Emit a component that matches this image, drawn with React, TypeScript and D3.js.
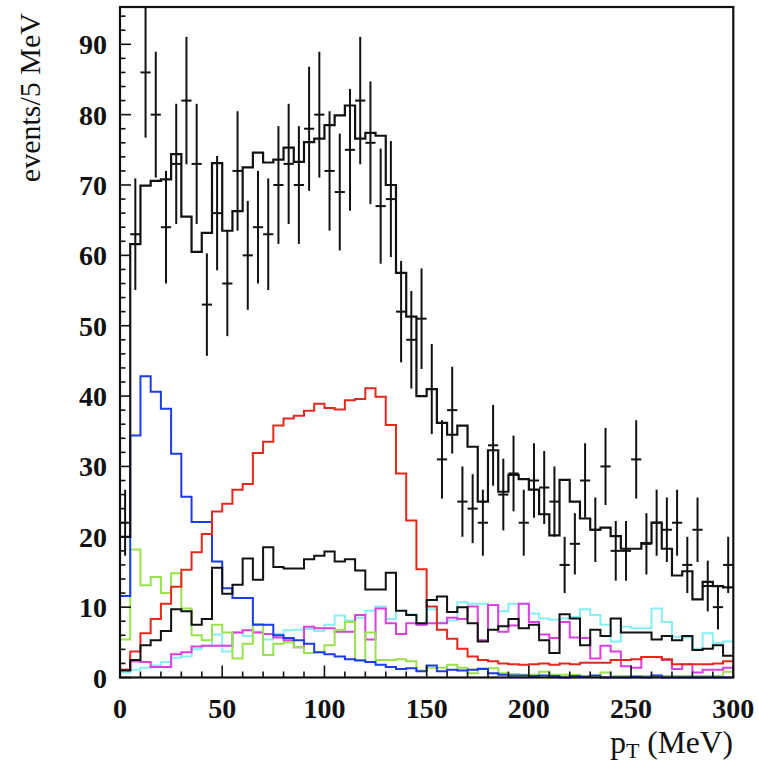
import React from 'react';
import * as d3 from 'd3';

// ---- axis definitions ----
const X_DOMAIN: [number, number] = [0, 300];
const Y_DOMAIN: [number, number] = [0, 95.3];
const X_TICKS = [0, 50, 100, 150, 200, 250, 300];
const Y_TICKS = [0, 10, 20, 30, 40, 50, 60, 70, 80, 90];
const BIN_WIDTH = 5; // MeV

// ---- measured data (events per 5 MeV bin, 0..300 MeV) ----
const dataCounts = [
  22, 63, 86, 80, 64, 73, 82, 73, 53, 66,
  56, 72, 60, 64, 63, 70, 73, 70, 78, 80,
  72, 69, 75, 82, 76, 67, 68, 52, 48, 51,
  41, 31, 38, 25, 24, 22, 33, 26, 29, 22,
  28, 27, 25, 16, 19, 28, 21, 30, 18, 18,
  31, 19, 22, 21, 22, 16, 21, 13, 10, 16,
];

// ---- total fit ----
const totalFit = [
  20.0, 61.6, 69.9, 70.6, 70.8, 74.4, 65.5, 60.5, 63.2, 73.1,
  63.5, 66.3, 72.5, 74.6, 73.2, 73.6, 75.3, 73.3, 76.1, 76.6,
  78.5, 79.9, 81.3, 76.6, 77.4, 77.0, 70.0, 57.5, 51.3, 40.0,
  41.0, 36.2, 34.5, 35.8, 32.8, 25.0, 32.3, 26.4, 28.8, 28.2,
  26.7, 23.2, 20.2, 28.1, 25.0, 22.6, 21.0, 21.3, 20.1, 18.3,
  18.3, 19.1, 22.0, 18.3, 14.5, 15.1, 11.1, 13.6, 13.0, 12.8,
];

// ---- components ----
const blueComp = [
  11.6, 34.4, 42.8, 40.6, 38.2, 31.8, 25.7, 22.1, 22.1, 16.5,
  12.7, 11.3, 11.3, 7.5, 7.5, 6.0, 5.6, 5.3, 4.8, 3.6,
  3.3, 3.0, 2.6, 2.4, 2.2, 1.8, 1.5, 1.2, 1.3, 0.9,
  1.7, 0.9, 1.1, 1.0, 1.1, 1.2, 0.6, 0.4, 0.3, 0.3,
  0.2, 0.3, 0.2, 0.0, 0.2, 0.1, 0.3, 0.0, 0.0, 0.0,
  0.1, 0.0, 0.3, 0.0, 0.0, 0.0, 0.0, 0.0, 0.0, 0.0,
];

const redComp = [
  1.1, 3.7, 6.3, 8.3, 10.5, 12.9, 15.3, 17.8, 20.4, 23.6,
  24.7, 26.7, 27.5, 31.9, 33.5, 35.8, 36.8, 37.2, 37.9, 38.9,
  38.3, 38.1, 39.4, 39.6, 41.1, 39.9, 35.9, 29.0, 22.3, 15.4,
  10.1, 6.8, 5.5, 4.1, 3.0, 2.5, 2.3, 2.0, 1.9, 1.8,
  1.9, 2.0, 1.8, 2.0, 1.9, 2.1, 2.1, 2.1, 2.5, 2.5,
  2.6, 2.9, 2.9, 2.6, 1.9, 1.9, 1.9, 1.9, 2.0, 2.3,
];

const greenComp = [
  5.4, 18.2, 13.1, 14.3, 12.0, 14.8, 9.8, 6.0, 5.3, 7.5,
  6.4, 2.7, 4.8, 7.6, 3.2, 4.8, 5.0, 4.3, 3.5, 3.6,
  4.6, 6.8, 7.9, 2.5, 6.4, 2.5, 2.5, 2.6, 2.3, 1.0,
  1.4, 1.4, 1.8, 1.4, 0.6, 1.3, 1.3, 0.6, 0.5, 0.4,
  0.4, 0.8, 0.4, 0.4, 0.4, 0.2, 0.2, 0.7, 0.2, 0.2,
  0.2, 0.2, 0.2, 0.2, 0.2, 0.2, 0.2, 0.2, 0.2, 0.8,
];

const cyanComp = [
  0.7, 1.1, 1.4, 1.7, 2.2, 2.8, 3.0, 4.0, 4.5, 6.1,
  3.7, 6.4, 5.9, 6.5, 5.4, 6.2, 6.7, 6.8, 6.9, 6.6,
  7.5, 8.8, 8.1, 8.5, 9.5, 10.1, 8.3, 9.5, 9.0, 7.5,
  9.7, 7.8, 8.1, 10.7, 10.5, 10.5, 10.3, 9.4, 10.5, 10.5,
  9.1, 8.4, 8.2, 8.4, 8.6, 9.7, 8.9, 7.5, 5.1, 7.2,
  7.0, 7.0, 9.8, 7.9, 5.8, 5.7, 4.1, 6.3, 4.9, 5.1,
];

const magentaComp = [
  1.1, 2.3, 2.2, 1.5, 1.5, 3.3, 3.6, 4.4, 4.5, 4.5,
  4.5, 6.4, 6.7, 6.4, 6.2, 5.7, 5.3, 4.3, 7.2, 7.0,
  7.0, 6.5, 6.5, 8.9, 5.4, 9.8, 7.7, 6.2, 7.7, 7.5,
  7.7, 7.7, 8.5, 8.3, 10.1, 5.3, 10.3, 6.5, 7.4, 10.5,
  7.9, 6.1, 5.6, 7.9, 5.7, 5.6, 2.7, 4.5, 3.7, 1.6,
  1.4, 2.9, 2.9, 2.5, 1.2, 1.9, 0.7, 1.1, 1.1, 1.4,
];

const blackComp = [
  1.0, 2.5, 4.6, 5.3, 6.6, 9.7, 9.4, 7.5, 8.3, 15.6,
  11.9, 13.2, 16.9, 13.9, 18.5, 15.7, 15.5, 15.5, 16.8, 17.3,
  17.9, 16.5, 16.8, 15.2, 12.5, 12.5, 14.9, 9.5, 8.9, 7.7,
  11.0, 11.5, 9.3, 10.0, 7.7, 5.1, 6.8, 7.3, 8.3, 7.0,
  7.5, 5.3, 3.5, 9.0, 8.4, 4.6, 6.8, 5.9, 8.4, 6.4,
  6.4, 6.4, 5.4, 5.9, 5.3, 5.9, 3.9, 4.1, 4.6, 3.1,
];

const COMPONENTS: { values: number[]; color: string }[] = [
  { values: cyanComp, color: '#86eef5' },
  { values: magentaComp, color: '#dc3ee0' },
  { values: greenComp, color: '#9ae24c' },
  { values: blueComp, color: '#1c3ce6' },
  { values: redComp, color: '#e4281e' },
  { values: blackComp, color: '#111111' },
];

const FONT = '"Liberation Serif", "Times New Roman", Times, serif';

export default function App() {
  const W = 759;
  const H = 762;
  const x = d3.scaleLinear().domain(X_DOMAIN).range([120, 733.3]);
  const y = d3.scaleLinear().domain(Y_DOMAIN).range([677.5, 7]);

  const step = d3
    .line<[number, number]>()
    .x((d) => x(d[0]))
    .y((d) => y(d[1]))
    .curve(d3.curveStepAfter);

  const histPts = (vals: number[]): [number, number][] => {
    const pts: [number, number][] = vals.map((v, i) => [i * BIN_WIDTH, v]);
    pts.push([vals.length * BIN_WIDTH, vals[vals.length - 1]]);
    return pts;
  };

  const xMinor = d3.range(X_DOMAIN[0], X_DOMAIN[1] + 0.001, 10);
  const yMinor = d3.range(0, Y_DOMAIN[1], 2);

  const x0 = x(X_DOMAIN[0]);
  const x1 = x(X_DOMAIN[1]);
  const y0 = y(0);
  const y1 = y(Y_DOMAIN[1]);

  return (
    <svg
      width={W}
      height={H}
      viewBox={`0 0 ${W} ${H}`}
      style={{ position: 'absolute', left: 0, top: 0, background: '#fff' }}
    >
      <rect x={0} y={0} width={W} height={H} fill="#fff" />

      {/* component histograms */}
      {COMPONENTS.map((c, k) => (
        <path
          key={k}
          d={step(histPts(c.values)) || ''}
          fill="none"
          stroke={c.color}
          strokeWidth={2}
          strokeLinejoin="miter"
        />
      ))}

      {/* total fit */}
      <path
        d={step(histPts(totalFit)) || ''}
        fill="none"
        stroke="#111"
        strokeWidth={2.2}
      />

      {/* data points with error bars */}
      {dataCounts.map((n, i) => {
        const cx = x(i * BIN_WIDTH + BIN_WIDTH / 2);
        const err = Math.sqrt(n);
        return (
          <g key={i} stroke="#111" strokeWidth={2}>
            <line x1={cx} x2={cx} y1={y(Math.min(n + err, Y_DOMAIN[1]))} y2={y(Math.max(n - err, 0))} />
            <line x1={x(i * BIN_WIDTH)} x2={x((i + 1) * BIN_WIDTH)} y1={y(n)} y2={y(n)} />
          </g>
        );
      })}

      {/* frame */}
      <rect x={x0} y={y1} width={x1 - x0} height={y0 - y1} fill="none" stroke="#111" strokeWidth={2.2} />

      {/* y ticks */}
      {yMinor.map((v) => (
        <line key={'ym' + v} x1={x0} x2={x0 + (v % 10 === 0 ? 11 : 5.5)} y1={y(v)} y2={y(v)} stroke="#111" strokeWidth={1.6} />
      ))}
      {/* x ticks */}
      {xMinor.map((v) => (
        <line key={'xm' + v} x1={x(v)} x2={x(v)} y1={y0} y2={y0 - (v % 50 === 0 ? 12 : 6)} stroke="#111" strokeWidth={1.6} />
      ))}

      {/* y tick labels */}
      {Y_TICKS.map((v) => (
        <text
          key={'yl' + v}
          x={107}
          y={y(v) + 10}
          textAnchor="end"
          fontFamily={FONT}
          fontWeight="bold"
          fontSize={28}
          fill="#111"
        >
          {v}
        </text>
      ))}

      {/* x tick labels */}
      {X_TICKS.map((v) => (
        <text
          key={'xl' + v}
          x={x(v)}
          y={718}
          textAnchor="middle"
          fontFamily={FONT}
          fontWeight="bold"
          fontSize={28}
          fill="#111"
        >
          {v}
        </text>
      ))}

      {/* axis titles */}
      <text
        x={40}
        y={13}
        textAnchor="end"
        transform="rotate(-90, 40, 13)"
        fontFamily={FONT}
        fontSize={30}
        fill="#111"
      >
        events/5 MeV
      </text>
      <text x={733} y={752.5} textAnchor="end" fontFamily={FONT} fontSize={31.5} fill="#111">
        p
        <tspan fontSize={22} dy={5}>T</tspan>
        <tspan dy={-5}> (MeV)</tspan>
      </text>
    </svg>
  );
}
